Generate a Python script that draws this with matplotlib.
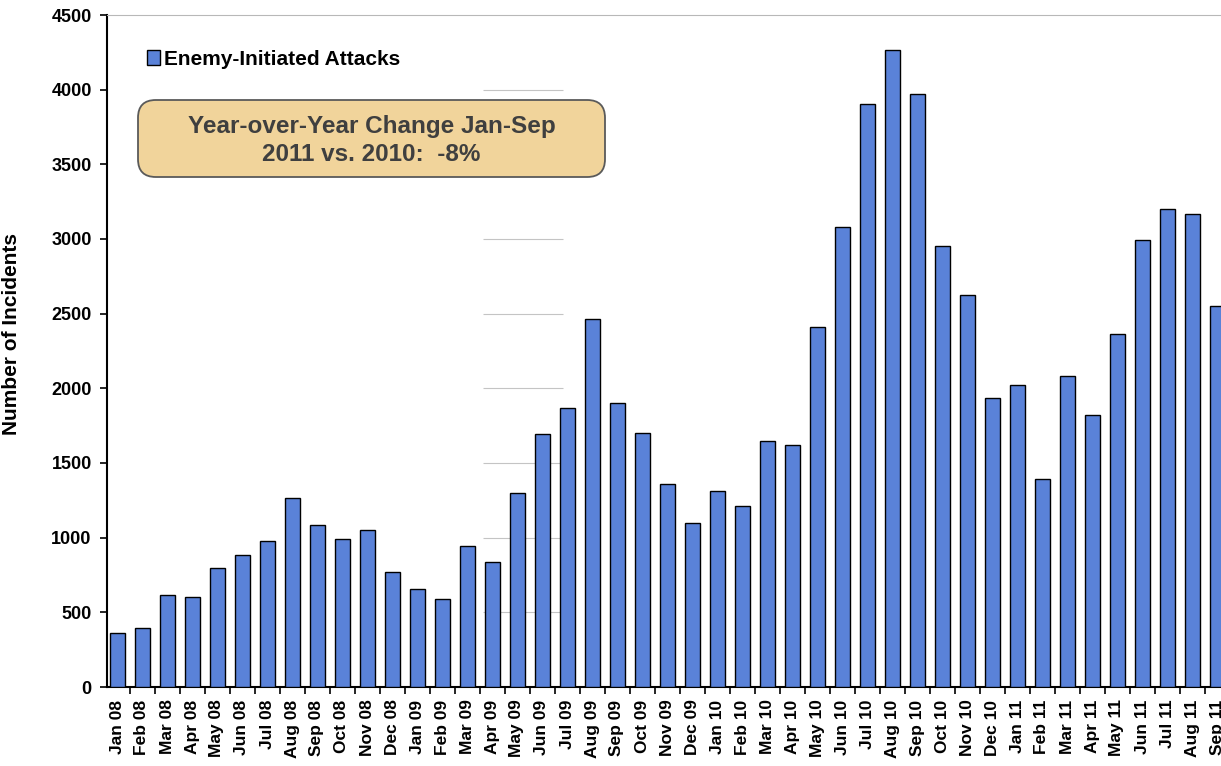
import matplotlib
matplotlib.use("Agg")
import matplotlib.pyplot as plt
import numpy as np
from matplotlib.patches import FancyBboxPatch
from matplotlib.ticker import FixedLocator, NullFormatter

plt.rcParams['font.family'] = ['Liberation Sans', 'DejaVu Sans']
plt.rcParams['font.weight'] = 'bold'

# monthly enemy-initiated attacks, Jan 2008 - Sep 2011
month_names = ["Jan", "Feb", "Mar", "Apr", "May", "Jun",
               "Jul", "Aug", "Sep", "Oct", "Nov", "Dec"]
years = ["08", "09", "10", "11"]
months = [m + " " + y for y in years for m in month_names][:45]

attacks = [362, 395, 614, 605, 797, 881, 977, 1265, 1082, 993, 1049, 770,
           654, 587, 942, 835, 1299, 1694, 1868, 2467, 1904, 1699, 1361, 1098,
           1310, 1214, 1649, 1622, 2413, 3080, 3905, 4264, 3973, 2955, 2625, 1937,
           2024, 1393, 2083, 1821, 2362, 2990, 3203, 3165, 2551]

yticks = [0, 500, 1000, 1500, 2000, 2500, 3000, 3500, 4000, 4500]

bar_color = "#5a82d8"
box_color = "#f1d49b"

fig = plt.figure(figsize=(12.21, 7.66), dpi=100)
ax = fig.add_axes([107 / 1221, 1 - 687 / 766, 1 - 107 / 1221, (687 - 15) / 766])

x = np.arange(len(attacks))
bars = ax.bar(x, attacks, width=0.6, color=bar_color, edgecolor="black",
              linewidth=1.0, label="Enemy-Initiated Attacks", zorder=3)

ax.set_xlim(-0.4, 44.16)
ax.set_ylim(0, 4500)

# y axis
ax.set_yticks(yticks)
ax.set_yticklabels([str(v) for v in yticks], fontsize=13, fontweight="bold")
ax.tick_params(axis="y", direction="out", length=5, width=1.2, pad=6, color="black")
ax.set_ylabel("Number of Incidents", fontsize=15, fontweight="bold")
ax.yaxis.set_label_coords(-0.077, 0.525)

# x axis: labels under bars, tick marks between bars
ax.set_xticks(x)
ax.set_xticklabels(months, rotation=90, fontsize=12.5, fontweight="bold")
ax.tick_params(axis="x", which="major", length=0, pad=9)
ax.xaxis.set_minor_locator(FixedLocator(np.arange(-0.5, 45, 1.0)))
ax.xaxis.set_minor_formatter(NullFormatter())
ax.tick_params(axis="x", which="minor", direction="out", length=5, width=1.2)

for side in ["left", "bottom"]:
    ax.spines[side].set_linewidth(1.5)
    ax.spines[side].set_color("black")
ax.spines["top"].set_color("#b8b8b8")
ax.spines["top"].set_linewidth(0.8)
ax.spines["right"].set_visible(False)

# faint leftover gridline pieces
ax.hlines(yticks[1:-1], 14.64, 17.84, color="#c4c4c4", linewidth=0.8, zorder=1)

# legend
leg = ax.legend(loc="center left", bbox_to_anchor=(0.036, 0.9345), frameon=False,
                fontsize=15, handlelength=0.6, handleheight=0.7,
                handletextpad=0.2, borderpad=0, borderaxespad=0)
for t in leg.get_texts():
    t.set_fontweight("bold")

# year-over-year callout
x0, x1 = (138 - 107) / 1114, (605 - 107) / 1114
y0, y1 = (687 - 177) / 672, (687 - 100) / 672
box = FancyBboxPatch((x0, y0), x1 - x0, y1 - y0, transform=ax.transAxes,
                     boxstyle="round,pad=0,rounding_size=0.016",
                     mutation_aspect=1114 / 672,
                     facecolor=box_color, edgecolor="#5a5a5a", linewidth=1.3,
                     zorder=5)
ax.add_patch(box)
ax.text((x0 + x1) / 2, (y0 + y1) / 2 - 0.003, "Year-over-Year Change Jan-Sep\n2011 vs. 2010:  -8%",
        transform=ax.transAxes, ha="center", va="center", fontsize=17.5,
        fontweight="bold", color="#3f3f3f", linespacing=1.25, zorder=6)

fig.savefig("out.png", dpi=100)
